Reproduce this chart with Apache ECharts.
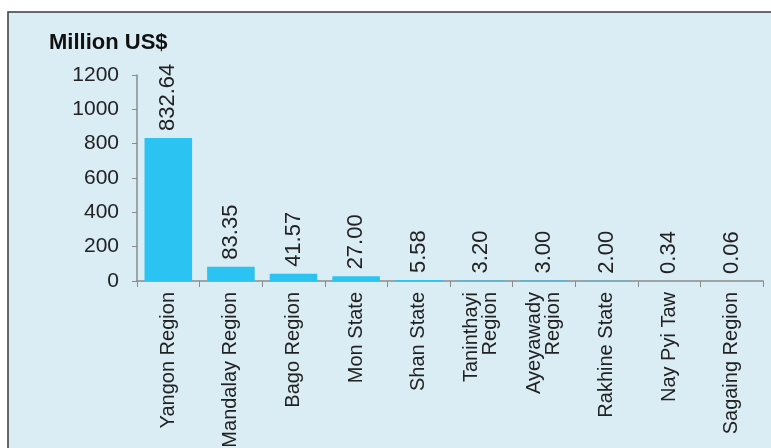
<!DOCTYPE html>
<html>
<head>
<meta charset="utf-8">
<script src="https://cdn.jsdelivr.net/npm/echarts@6/dist/echarts.min.js"></script>
<style>
  html, body { margin: 0; padding: 0; background: #ffffff; }
  #chart { width: 771px; height: 448px; }
</style>
</head>
<body>
<div id="chart"></div>
<script>
// Investment by state / region
const regions = [
  'Yangon Region', 'Mandalay Region', 'Bago Region', 'Mon State', 'Shan State',
  'Taninthayi\nRegion', 'Ayeyawady\nRegion', 'Rakhine State', 'Nay Pyi Taw', 'Sagaing Region'
];
const amounts = [832.64, 83.35, 41.57, 27.00, 5.58, 3.20, 3.00, 2.00, 0.34, 0.06];
const yTicks = [0, 200, 400, 600, 800, 1000, 1200];
const unitLabel = 'Million US$';

const FONT = '"Liberation Sans", Arial, Helvetica, sans-serif';
const chart = echarts.init(document.getElementById('chart'), null, { renderer: 'canvas' });

chart.setOption({
  animation: false,
  backgroundColor: '#ffffff',
  graphic: [{
    type: 'rect',
    z: -10,
    silent: true,
    shape: { x: 8, y: 12, width: 800, height: 500 },
    style: { fill: '#daedf4', stroke: '#3a3a3a', lineWidth: 1.5 }
  }],
  title: {
    text: unitLabel,
    left: 44,
    top: 27,
    textStyle: { fontFamily: FONT, fontSize: 22, fontWeight: 'bold', color: '#111' }
  },
  grid: {
    left: 137, right: 8, top: 75, bottom: 167,
    containLabel: false,
    outerBoundsMode: 'none'
  },
  xAxis: {
    type: 'category',
    data: regions,
    axisLine: { show: true, lineStyle: { color: '#8a8a8a', width: 1.5 } },
    axisTick: { show: true, length: 6, lineStyle: { color: '#8a8a8a' } },
    axisLabel: {
      interval: 0, rotate: 90, margin: 11,
      fontFamily: FONT, fontSize: 20, lineHeight: 19, color: '#222'
    }
  },
  yAxis: {
    type: 'value',
    min: yTicks[0],
    max: yTicks[yTicks.length - 1],
    interval: yTicks[1] - yTicks[0],
    axisLine: { show: true, lineStyle: { color: '#8a8a8a', width: 1.5 } },
    axisTick: { show: true, length: 5, lineStyle: { color: '#8a8a8a' } },
    splitLine: { show: false },
    axisLabel: {
      margin: 18, fontFamily: FONT, fontSize: 21, color: '#222',
      formatter: v => String(v)
    }
  },
  series: [{
    type: 'bar',
    data: amounts,
    barCategoryGap: '24%',
    itemStyle: { color: '#2ac3f2' },
    label: {
      show: true,
      position: 'top',
      rotate: 90,
      align: 'left',
      verticalAlign: 'middle',
      distance: 7,
      formatter: p => p.value.toFixed(2),
      fontFamily: FONT, fontSize: 22, color: '#222'
    }
  }]
});
</script>
</body>
</html>
